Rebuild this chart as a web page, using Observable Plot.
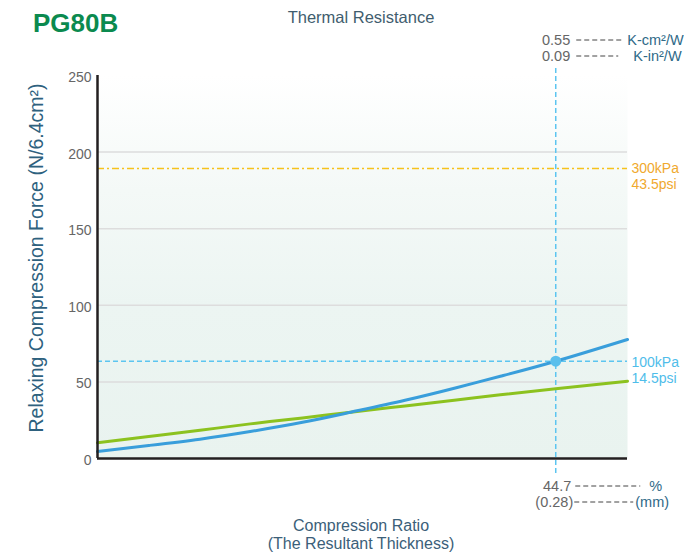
<!DOCTYPE html>
<html><head><meta charset="utf-8">
<script src="https://cdn.jsdelivr.net/npm/d3@7"></script>
<script src="https://cdn.jsdelivr.net/npm/@observablehq/plot@0.6"></script>
<style>
body{margin:0;background:#fff;}
#chart{width:684px;height:552px;}
</style>
</head><body><div id="chart"></div>
<script>
// Compression ratio (%) sample positions
const ratio      = [0, 5, 10, 14.9, 20, 24.7, 30, 35, 39.3, 44.7, 51.7];
// Relaxing compression force (N/6.4cm²)
const forceBlue  = [4.6, 8.5, 12.6, 17.6, 23.6, 30.2, 38.0, 46.2, 53.7, 63.5, 77.7];
const forceGreen = [10.3, 14.3, 18.4, 22.6, 26.5, 30.2, 34.3, 38.2, 41.6, 45.5, 50.5];
const yTicks = [0, 50, 100, 150, 200, 250];
const gridTicks = [50, 100, 150, 200];
const xDomain = [0, 51.7];
const markRatio = 44.7;
const markForce = 63.5;
const pressureLine = 189.3;
const pressureLabels = ["300kPa", "43.5psi"];
const markLabels = ["100kPa", "14.5psi"];
const thermalValues = ["0.55", "0.09"];
const thermalUnits = ["K-cm²/W", "K-in²/W"];
const ratioValues = ["44.7", "(0.28)"];
const ratioUnits = ["%", "(mm)"];
const vLineSpan = [-9.8, 256.5];

const blue = ratio.map((r, i) => ({r, f: forceBlue[i]}));
const green = ratio.map((r, i) => ({r, f: forceGreen[i]}));

const FONT = "'Liberation Sans', Arial, Helvetica, sans-serif";
const plot = Plot.plot({
  width: 684, height: 552,
  marginLeft: 97, marginRight: 57, marginTop: 75, marginBottom: 94,
  x: {domain: xDomain, axis: null},
  y: {domain: [0, 250], axis: null},
  style: {fontFamily: FONT, background: "transparent", overflow: "visible"},
  marks: [
    Plot.frame({fill: "url(#bgGrad)", stroke: null}),
    Plot.ruleY(gridTicks, {stroke: "#dddddd", strokeWidth: 1.5}),
    Plot.ruleY([pressureLine], {stroke: "#f6c21c", strokeWidth: 1.5, strokeDasharray: "7,3,2,3"}),
    Plot.ruleY([markForce], {stroke: "#5cc5f0", strokeWidth: 1.5, strokeDasharray: "5,3"}),
    Plot.ruleX([markRatio], {y1: vLineSpan[0], y2: vLineSpan[1], stroke: "#5cc5f0", strokeWidth: 1.5, strokeDasharray: "5,3", clip: false}),
    Plot.line(green, {x: "r", y: "f", stroke: "#8cc21f", strokeWidth: 3, curve: "natural"}),
    Plot.line(blue, {x: "r", y: "f", stroke: "#399edb", strokeWidth: 3, curve: "natural"}),
    Plot.dot([{r: markRatio, f: markForce}], {x: "r", y: "f", r: 5.5, fill: "#5bbfec", stroke: null}),
    Plot.ruleX([0], {stroke: "#231f20", strokeWidth: 2.5}),
    Plot.ruleY([0], {stroke: "#231f20", strokeWidth: 2.5}),
    Plot.text(yTicks, {x: 0, y: d => d, text: d => String(d), dx: -6, dy: 2, textAnchor: "end", fill: "#666", fontSize: 14}),
    Plot.text([pressureLabels[0]], {x: xDomain[1], y: pressureLine, text: d => d, dx: 4, textAnchor: "start", fill: "#f0a92e", fontSize: 14}),
    Plot.text([pressureLabels[1]], {x: xDomain[1], y: pressureLine, text: d => d, dx: 4, dy: 16, textAnchor: "start", fill: "#f0a92e", fontSize: 14}),
    Plot.text([markLabels[0]], {x: xDomain[1], y: markForce, text: d => d, dx: 4, dy: 1, textAnchor: "start", fill: "#4fbdea", fontSize: 14}),
    Plot.text([markLabels[1]], {x: xDomain[1], y: markForce, text: d => d, dx: 4, dy: 17, textAnchor: "start", fill: "#4fbdea", fontSize: 14})
  ]
});

const svg = d3.select(plot);
svg.insert("defs", ":first-child").html(
  `<linearGradient id="bgGrad" x1="0" y1="0" x2="0" y2="1">
     <stop offset="0" stop-color="#ffffff"/>
     <stop offset="0.3" stop-color="#f4f9f7"/>
     <stop offset="0.6" stop-color="#ecf5f2"/>
     <stop offset="1" stop-color="#e9f3ef"/>
   </linearGradient>`);

const xm = plot.scale("x").apply(markRatio);
const g = svg.append("g").attr("font-family", FONT).attr("text-anchor", "start");

g.append("text").attr("x", 33).attr("y", 32).attr("font-size", 26).attr("font-weight", "bold")
  .attr("text-anchor", "start").attr("fill", "#0b8a4f").text("PG80B");
g.append("text").attr("x", 361).attr("y", 23).attr("font-size", 16.5).attr("text-anchor", "middle")
  .attr("fill", "#3f5d6e").text("Thermal Resistance");
g.append("text").attr("transform", "translate(43,258) rotate(-90)").attr("font-size", 19.5)
  .attr("text-anchor", "middle").attr("fill", "#2e617e").text("Relaxing Compression Force (N/6.4cm²)");
g.append("text").attr("x", 361).attr("y", 531).attr("font-size", 16).attr("text-anchor", "middle")
  .attr("fill", "#3b6079").text("Compression Ratio");
g.append("text").attr("x", 361).attr("y", 549).attr("font-size", 16).attr("text-anchor", "middle")
  .attr("fill", "#3b6079").text("(The Resultant Thickness)");

// Thermal resistance (top right)
const topRows = [
  {y: 40, v: thermalValues[0], u: thermalUnits[0], lx1: 21, lx2: 69, ux: 72},
  {y: 56, v: thermalValues[1], u: thermalUnits[1], lx1: 21, lx2: 63, ux: 78}
];
topRows.forEach(r => {
  g.append("text").attr("x", xm + 15).attr("y", r.y + 5).attr("font-size", 14.5).attr("text-anchor", "end")
    .attr("fill", "#666").text(r.v);
  g.append("line").attr("x1", xm + r.lx1).attr("x2", xm + r.lx2).attr("y1", r.y).attr("y2", r.y)
    .attr("stroke", "#444").attr("stroke-width", 1).attr("stroke-dasharray", "5,3");
  g.append("text").attr("x", xm + r.ux).attr("y", r.y + 5).attr("font-size", 14.5).attr("text-anchor", "start")
    .attr("fill", "#2f6a88").text(r.u);
});

// Compression ratio (bottom)
const botRows = [
  {y: 486, v: ratioValues[0], u: ratioUnits[0], vx: 16, lx1: 20, lx2: 85, ux: 94},
  {y: 502, v: ratioValues[1], u: ratioUnits[1], vx: 18, lx1: 19, lx2: 78, ux: 80}
];
botRows.forEach(r => {
  g.append("text").attr("x", xm + r.vx).attr("y", r.y + 5).attr("font-size", 14.5).attr("text-anchor", "end")
    .attr("fill", "#666").text(r.v);
  g.append("line").attr("x1", xm + r.lx1).attr("x2", xm + r.lx2).attr("y1", r.y).attr("y2", r.y)
    .attr("stroke", "#444").attr("stroke-width", 1).attr("stroke-dasharray", "5,3");
  g.append("text").attr("x", xm + r.ux).attr("y", r.y + 5).attr("font-size", 14.5).attr("text-anchor", "start")
    .attr("fill", "#2f6a88").text(r.u);
});

document.getElementById("chart").appendChild(plot);
</script>
</body></html>
